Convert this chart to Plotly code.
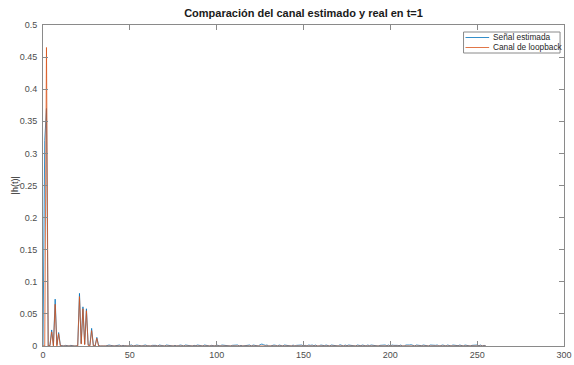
import plotly.graph_objects as go

# ---------------- data ----------------
head_blue = [0.0, 0.32, 0.37, 0.0, 0.001, 0.025, 0.001, 0.073, 0.002, 0.021,
             0.001, 0.0, 0.0, 0.001, 0.0, 0.0, 0.001, 0.0, 0.0, 0.0,
             0.001, 0.082, 0.004, 0.061, 0.003, 0.058, 0.002, 0.001, 0.0275, 0.001,
             0.0, 0.0135, 0.001]
noise_blue = [0.0, 0.0005, 0.0, 0.0, 0.001, 0.0015, 0.001, 0.0, 0.0, 0.0005,
              0.001, 0.0015, 0.0, 0.001, 0.0005, 0.0, 0.0, 0.001, 0.0015, 0.0,
              0.001, 0.0015, 0.001, 0.0, 0.0, 0.001, 0.0015, 0.0005, 0.0, 0.0,
              0.001, 0.0015, 0.001, 0.0, 0.0015, 0.001, 0.0, 0.0, 0.0015, 0.001,
              0.0015, 0.0005, 0.0, 0.001, 0.0, 0.0005, 0.0015, 0.001, 0.0, 0.0015,
              0.001, 0.0015, 0.0, 0.0, 0.001, 0.0005, 0.0015, 0.001, 0.0, 0.0,
              0.0015, 0.001, 0.0015, 0.0, 0.001, 0.0005, 0.0, 0.0015, 0.001, 0.0,
              0.0015, 0.001, 0.0015, 0.0005, 0.0, 0.0, 0.001, 0.0015, 0.001, 0.0015,
              0.0, 0.001, 0.0, 0.0005, 0.0015, 0.001, 0.0015, 0.0, 0.0015, 0.001,
              0.0005, 0.0, 0.002, 0.003, 0.002, 0.001, 0.0015, 0.0, 0.0, 0.001,
              0.0015, 0.001, 0.0, 0.0015, 0.001, 0.0, 0.0015, 0.001, 0.0015, 0.001,
              0.0, 0.0015, 0.0, 0.001, 0.0015, 0.001, 0.0015, 0.0, 0.001, 0.0,
              0.0015, 0.001, 0.0015, 0.0005, 0.0015, 0.0, 0.0, 0.0015, 0.001, 0.0005,
              0.0015, 0.001, 0.0, 0.0015, 0.001, 0.0015, 0.001, 0.0, 0.002, 0.001,
              0.0, 0.0015, 0.0005, 0.0015, 0.001, 0.0015, 0.0, 0.0, 0.0015, 0.001,
              0.0005, 0.0015, 0.001, 0.0, 0.0015, 0.0005, 0.0015, 0.001, 0.0015, 0.0,
              0.0, 0.001, 0.0015, 0.001, 0.0015, 0.0005, 0.0015, 0.0, 0.0015, 0.001,
              0.0015, 0.001, 0.0005, 0.0015, 0.0, 0.0, 0.0015, 0.001, 0.0015, 0.002,
              0.001, 0.0, 0.0015, 0.001, 0.0015, 0.0005, 0.0015, 0.001, 0.0, 0.0,
              0.0015, 0.001, 0.0015, 0.001, 0.0015, 0.0, 0.0005, 0.0015, 0.001, 0.0,
              0.0015, 0.001, 0.0, 0.0015, 0.001, 0.0015, 0.0005, 0.0015, 0.001, 0.0,
              0.0015, 0.001, 0.0015, 0.0, 0.001, 0.0015, 0.001, 0.0015, 0.0005, 0.0015,
              0.0, 0.001, 0.0]
blue = head_blue + noise_blue

orange_head = [0.0, 0.0, 0.465, 0.0, 0.0, 0.022, 0.0, 0.065, 0.0, 0.019,
               0.0, 0.0, 0.0, 0.0, 0.0, 0.0, 0.0, 0.0, 0.0, 0.0,
               0.0, 0.077, 0.003, 0.058, 0.002, 0.055, 0.001, 0.0, 0.024, 0.0,
               0.0, 0.012, 0.0]
orange = orange_head + [0.0] * (len(blue) - len(orange_head))
t = list(range(len(blue)))

series_names = ["Señal estimada", "Canal de loopback"]
x_ticks = [0, 50, 100, 150, 200, 250, 300]
x_ticktext = ["0", "50", "100", "150", "200", "250", "300"]
y_ticks = [0, 0.05, 0.1, 0.15, 0.2, 0.25, 0.3, 0.35, 0.4, 0.45, 0.5]
y_ticktext = ["0", "0.05", "0.1", "0.15", "0.2", "0.25", "0.3", "0.35", "0.4", "0.45", "0.5"]

BLUE = "#0072BD"
ORANGE = "#D95319"
FONT = "Liberation Sans, Arial, sans-serif"

W, H = 574, 365
L, R, T, B = 43, 2, 25, 19
pw, ph = W - L - R, H - T - B

fig = go.Figure()
fig.add_trace(go.Scatter(x=t, y=blue, mode="lines", name=series_names[0],
                         line=dict(color=BLUE, width=0.8), showlegend=False))
fig.add_trace(go.Scatter(x=t, y=orange, mode="lines", name=series_names[1],
                         line=dict(color=ORANGE, width=0.8), showlegend=False))

axis_common = dict(showgrid=False, zeroline=False, showline=True, linecolor="#8a8a8a",
                   linewidth=1, mirror="ticks", ticks="inside", ticklen=5,
                   tickcolor="#8a8a8a", tickwidth=1, ticklabeloverflow="allow",
                   tickfont=dict(family=FONT, size=9, color="#4d4d4d"))
fig.update_xaxes(range=[0, 300], tickvals=x_ticks, ticktext=x_ticktext, **axis_common)
fig.update_yaxes(range=[0, 0.5], tickvals=y_ticks, ticktext=y_ticktext,
                 ticklabelstandoff=3, **axis_common)

# custom MATLAB-like legend (pixel -> paper)
def px(xp):
    return (xp - L) / pw

def py(yp):
    return 1 - (yp - T) / ph

lx0, lx1, ly0, ly1 = 470, 568, 32, 53
shapes = [dict(type="rect", xref="paper", yref="paper", x0=px(lx0), x1=px(lx1),
               y0=py(ly1), y1=py(ly0), line=dict(color="#8a8a8a", width=1),
               fillcolor="white", layer="above")]
annotations = []
for i, (nm, col) in enumerate(zip(series_names, [BLUE, ORANGE])):
    yc = 37.5 + i * 10
    shapes.append(dict(type="line", xref="paper", yref="paper", x0=px(472), x1=px(496),
                       y0=py(yc), y1=py(yc), line=dict(color=col, width=0.8), layer="above"))
    annotations.append(dict(text=nm, xref="paper", yref="paper", x=px(498), y=py(yc),
                            xanchor="left", yanchor="middle", showarrow=False,
                            font=dict(family=FONT, size=8.3, color="#262626")))

annotations.append(dict(text="|h(t)|", xref="paper", yref="paper", x=px(15), y=py(185),
                        xanchor="center", yanchor="middle", textangle=-90, showarrow=False,
                        font=dict(family=FONT, size=9, color="#262626")))

fig.update_layout(
    width=W, height=H,
    margin=dict(l=L, r=R, t=T, b=B, pad=0),
    paper_bgcolor="white", plot_bgcolor="white",
    title=dict(text="<b>Comparación del canal estimado y real en t=1</b>",
               x=0.5, xref="paper", xanchor="center",
               y=1 - 13 / H, yref="container", yanchor="middle",
               font=dict(family=FONT, size=11, color="#1a1a1a")),
    shapes=shapes, annotations=annotations,
    showlegend=False,
)

fig.write_html("out.html")
